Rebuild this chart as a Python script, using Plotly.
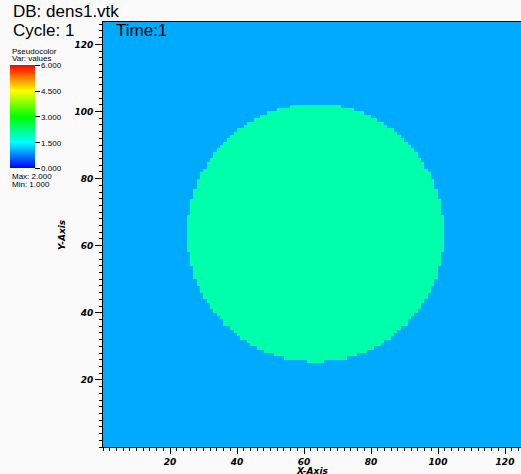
import numpy as np
import plotly.graph_objects as go

# ---- data ----
grid_cells = 127                 # mesh cells per side (0..127)
background_value = 1.0           # Min
disc_value = 2.0                 # Max
disc_center = (63.5, 63.8)
disc_radius = 38.4
color_min, color_max = 0.0, 6.0
cbar_ticks = [0.0, 1.5, 3.0, 4.5, 6.0]
cbar_ticktext = ["0.000", "1.500", "3.000", "4.500", "6.000"]
axis_ticks = [20, 40, 60, 80, 100, 120]

xc = np.arange(grid_cells) + 0.5
yc = np.arange(grid_cells) + 0.5
X, Y = np.meshgrid(xc, yc)
inside = (X - disc_center[0]) ** 2 + (Y - disc_center[1]) ** 2 <= disc_radius ** 2
z = np.where(inside, disc_value, background_value)

colorscale = [[0.0, "#0000ff"], [0.25, "#00ffff"], [0.5, "#00ff00"],
              [0.75, "#ffff00"], [1.0, "#ff0000"]]

W, H = 521, 474
L, T, B = 103, 22, 27

fig = go.Figure()
fig.add_trace(go.Heatmap(
    x=xc, y=yc, z=z, zmin=color_min, zmax=color_max, colorscale=colorscale,
    hoverinfo="skip",
    colorbar=dict(
        xref="container", yref="container",
        x=10 / W, xanchor="left", y=1 - 73 / H, yanchor="top",
        thickness=25, thicknessmode="pixels", len=103, lenmode="pixels",
        xpad=0, ypad=0, outlinewidth=0,
        tickmode="array", tickvals=cbar_ticks, ticktext=cbar_ticktext,
        ticks="outside", ticklen=5, tickcolor="#000", tickwidth=1,
        tickfont=dict(family="Liberation Sans", size=8, color="#000"),
    ),
))

tickfont = dict(family="DejaVu Sans", size=9, color="#000", weight="bold", style="italic")
fig.update_xaxes(
    range=[0, (W - L) / 3.35], showgrid=False, zeroline=False,
    tickmode="array", tickvals=axis_ticks, ticks="outside", ticklen=6,
    tickcolor="#000", tickfont=tickfont,
    minor=dict(dtick=2, tick0=0, ticks="outside", ticklen=3, tickcolor="#000", showgrid=False),
    showline=True, linecolor="#000", linewidth=1, mirror=True,
)
fig.update_yaxes(
    range=[0, (H - B - T) / 3.355], showgrid=False, zeroline=False,
    tickmode="array", tickvals=axis_ticks, ticks="outside", ticklen=7,
    tickcolor="#000", tickfont=tickfont,
    minor=dict(dtick=2, tick0=0, ticks="outside", ticklen=3, tickcolor="#000", showgrid=False),
    showline=True, linecolor="#000", linewidth=1,
)

def cann(text, x, y, size, xanchor="left", yanchor="middle", textangle=0, fontextra=None):
    f = dict(family="Liberation Sans", size=size, color="#000")
    if fontextra:
        f.update(fontextra)
    px = (x - L) / (W - L)
    py = (H - B - y) / (H - B - T)
    fig.add_annotation(text=text, x=px, y=py, xref="paper", yref="paper",
                       showarrow=False, xanchor=xanchor, yanchor=yanchor,
                       textangle=textangle, font=f)

cann("DB: dens1.vtk", 11, 11, 17)
cann("Cycle: 1", 11, 31, 17)
cann("Time:1", 114, 31, 17)
cann("Pseudocolor", 10, 51.5, 8)
cann("Var: values", 10, 58.5, 8)
cann("Max: 2.000", 10, 176.5, 8)
cann("Min: 1.000", 10, 184, 8)
cann("Y-Axis", 62, 235, 9, xanchor="center", textangle=-90,
     fontextra=dict(family="DejaVu Sans", weight="bold", style="italic"))
cann("X-Axis", 312, 471, 9, xanchor="center",
     fontextra=dict(family="DejaVu Sans", weight="bold", style="italic"))

fig.update_layout(
    width=W, height=H, margin=dict(l=L, r=0, t=T, b=B, pad=0),
    paper_bgcolor="#fafafa", plot_bgcolor="#fafafa", showlegend=False,
)

fig.write_html("out.html", config={"displayModeBar": False},
               post_script="document.body.style.margin='0';")
